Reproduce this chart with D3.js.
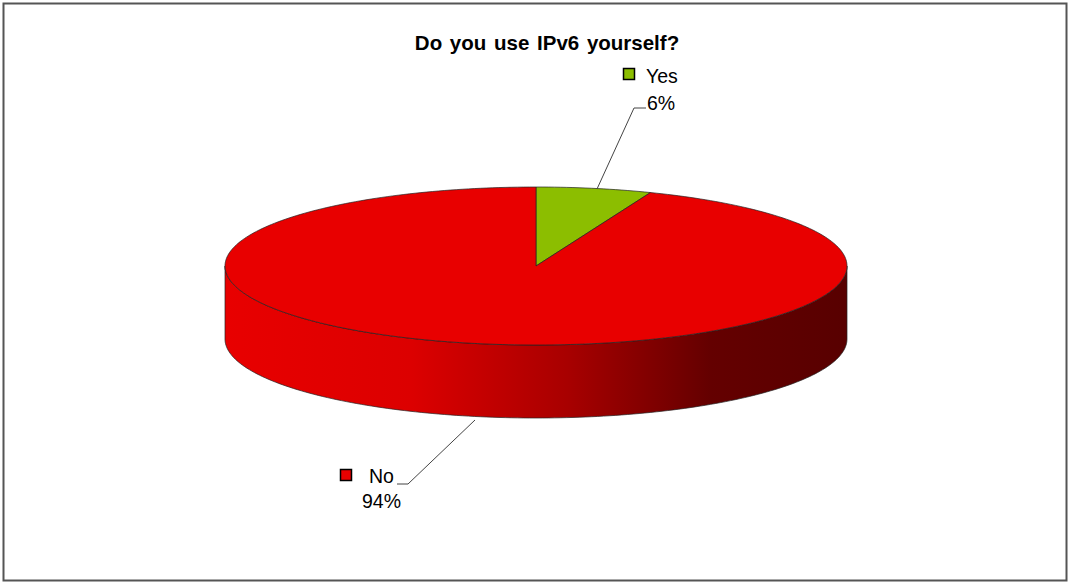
<!DOCTYPE html>
<html><head><meta charset="utf-8">
<script src="https://cdn.jsdelivr.net/npm/d3@7"></script>
<style>body{margin:0;background:#fff}svg{display:block}text{font-family:"Liberation Sans",Arial,sans-serif}</style>
</head><body>
<script>
const categories = ["Yes", "No"];
const values = [6, 94];
const labels = ["6%", "94%"];
const colors = ["#8cbe00", "#e80000"];
const title = "Do you use IPv6 yourself?";

const W = 1068, H = 582;
const svg = d3.select("body").append("svg").attr("width", W).attr("height", H);
svg.append("rect").attr("x", 3.5).attr("y", 3.5).attr("width", W - 5).attr("height", H - 5)
  .attr("fill", "#fff").attr("stroke", "#555").attr("stroke-width", 2);

svg.append("text").attr("x", 547).attr("y", 50).attr("text-anchor", "middle")
  .attr("font-weight", "bold").attr("font-size", 20.5).attr("word-spacing", 2).attr("fill", "#000").text(title);

const cx = 536, cy = 266, rx = 311, ry = 79, depth = 73;
const pie = d3.pie().sort(null).startAngle(0).endAngle(2 * Math.PI).value(d => d);
const arcs = pie(values);
const pt = (a, dy = 0) => [cx + rx * Math.sin(a), cy - ry * Math.cos(a) + dy];

const defs = svg.append("defs");
const grad = defs.append("linearGradient").attr("id", "sideGrad")
  .attr("gradientUnits", "userSpaceOnUse").attr("x1", cx - rx).attr("x2", cx + rx).attr("y1", 0).attr("y2", 0);
[[0, "#e80000"], [0.3, "#dc0000"], [0.55, "#a80000"], [0.78, "#640000"], [1, "#580000"]]
  .forEach(([o, c]) => grad.append("stop").attr("offset", o).attr("stop-color", c));

function ellArc(a0, a1, dy) {
  const n = Math.max(2, Math.ceil(Math.abs(a1 - a0) / 0.02));
  const p = [];
  for (let i = 0; i <= n; i++) p.push(pt(a0 + (a1 - a0) * i / n, dy));
  return p;
}
// side faces (front half: angles pi/2 .. 3pi/2)
arcs.forEach((d, i) => {
  const a0 = Math.max(d.startAngle, Math.PI / 2), a1 = Math.min(d.endAngle, 3 * Math.PI / 2);
  if (a1 <= a0) return;
  const top = ellArc(a0, a1, 0), bot = ellArc(a1, a0, depth);
  const path = "M" + top.concat(bot).map(p => p.join(",")).join("L") + "Z";
  svg.append("path").attr("d", path)
    .attr("fill", i === 1 ? "url(#sideGrad)" : d3.color(colors[i]).darker(1))
    .attr("stroke", "#222").attr("stroke-width", 0.7);
});
// top faces
arcs.forEach((d, i) => {
  const p = ellArc(d.startAngle, d.endAngle, 0);
  const path = "M" + cx + "," + cy + "L" + p.map(q => q.join(",")).join("L") + "Z";
  svg.append("path").attr("d", path).attr("fill", colors[i])
    .attr("stroke", "#222").attr("stroke-width", 0.7).attr("stroke-linejoin", "round");
});

// labels
const lab = [
  {sq: [623, 68], tx: [646, 83], pct: [647, 110], line: [[597, 189], [634, 108], [646, 108]]},
  {sq: [340, 469], tx: [369, 483], pct: [362, 508], line: [[475, 420], [408, 484], [397, 484]]}
];
arcs.forEach((d, i) => {
  const L = lab[i];
  svg.append("path").attr("d", d3.line()(L.line)).attr("fill", "none").attr("stroke", "#444").attr("stroke-width", 1);
  svg.append("rect").attr("x", L.sq[0] + 0.5).attr("y", L.sq[1] + 0.5).attr("width", 11).attr("height", 11)
    .attr("fill", colors[i]).attr("stroke", "#000").attr("stroke-width", 1.5);
  svg.append("text").attr("x", L.tx[0]).attr("y", L.tx[1]).attr("font-size", 19.5).attr("fill", "#000").text(categories[i]);
  svg.append("text").attr("x", L.pct[0]).attr("y", L.pct[1]).attr("font-size", 19.5).attr("fill", "#000").text(labels[i]);
});
</script>
</body></html>
